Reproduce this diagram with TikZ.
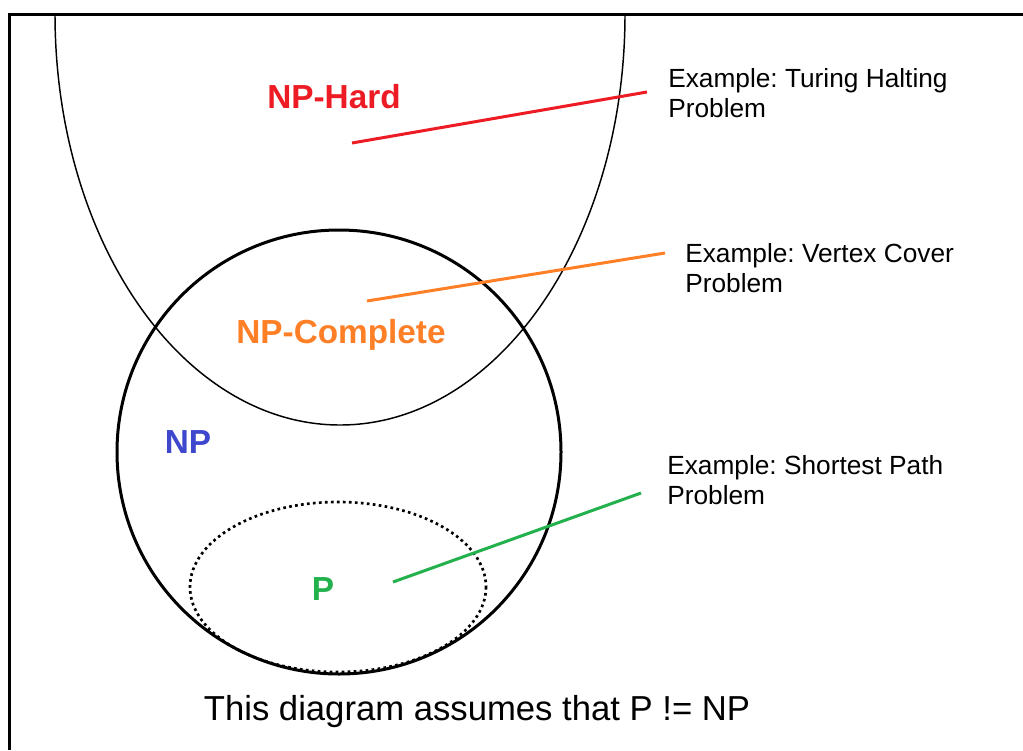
\documentclass[tikz,border=0pt]{standalone}
\usepackage{fontspec}
\setmainfont{Liberation Sans}
\frenchspacing
\definecolor{hardred}{HTML}{ED1C24}
\definecolor{completeorange}{HTML}{FF7F27}
\definecolor{npblue}{HTML}{3F48CC}
\definecolor{pgreen}{HTML}{22B14C}
\tikzset{
  classlabel/.style={font=\fontsize{25}{29}\selectfont\bfseries, anchor=base, inner sep=0pt},
  examplelabel/.style={font=\fontsize{19.7}{22.5}\selectfont, align=left, anchor=north west, inner sep=0pt},
  pointer/.style={line width=2.25pt},
}

\begin{document}
\begin{tikzpicture}[x=0.75pt,y=-0.75pt] %One unit is one pixel of the 1023x750 drawing, y grows downwards
\useasboundingbox (0,0) rectangle (1023,750);
\draw[line width=2.25pt] (9,750) -- (9,14) -- (1023,14); %Frame, open on the right and at the bottom
\begin{scope}
\clip (9,14) rectangle (1023,750); %Cuts the NP-Hard ellipse at the frame
\draw[line width=1.1pt] (340,14) ellipse [x radius=285, y radius=411]; %NP-Hard
\end{scope}
\draw[line width=2pt, dash pattern=on 2pt off 2.5pt] (338,587) ellipse [x radius=148, y radius=85]; %P (dotted)
\draw[line width=2.25pt] (339,452) circle [radius=222]; %NP
\node[classlabel, text=hardred] (hard) at (334,108) {NP-Hard};
\node[classlabel, text=completeorange] (complete) at (341,343) {NP-Complete};
\node[classlabel, text=npblue] (np) at (188,453) {NP};
\node[classlabel, text=pgreen] (p) at (323,600) {P};
\node[examplelabel] (halting) at (668,68) {Example: Turing Halting\\Problem};
\node[examplelabel] (vertex) at (685,243) {Example: Vertex Cover\\Problem};
\node[examplelabel] (path) at (667,455) {Example: Shortest Path\\Problem};
\node[font=\fontsize{26}{30}\selectfont, anchor=base, inner sep=0pt] (note) at (477,720) {This diagram assumes that P != NP};
\coordinate (hardfrom) at (352,143);
\coordinate (hardto) at (647,92);
\coordinate (completefrom) at (367,301);
\coordinate (completeto) at (665,253);
\coordinate (pfrom) at (393,582);
\coordinate (pto) at (641,493);
\draw[pointer, hardred] (hardfrom) -- (hardto); %Pointer to the Turing example
\draw[pointer, completeorange] (completefrom) -- (completeto); %Pointer to the Vertex Cover example
\draw[pointer, pgreen] (pfrom) -- (pto); %Pointer to the Shortest Path example
\end{tikzpicture}
\end{document}
